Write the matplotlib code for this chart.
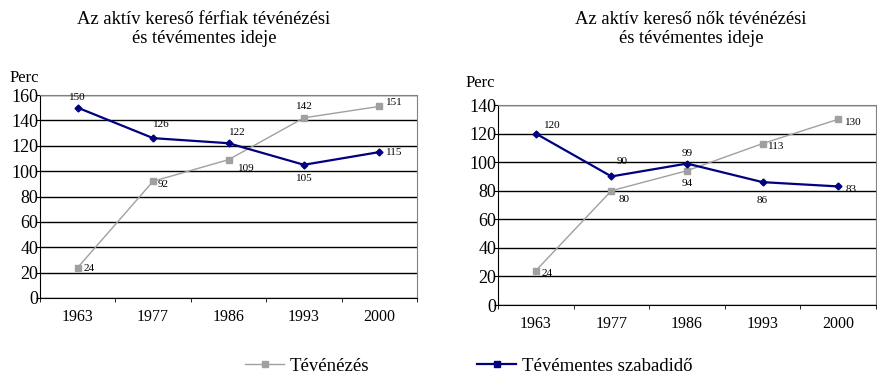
import matplotlib
matplotlib.use("Agg")
import matplotlib.pyplot as plt
from matplotlib.lines import Line2D

plt.rcParams["font.family"] = ["Liberation Serif", "DejaVu Serif"]

years = ["1963", "1977", "1986", "1993", "2000"]

# Men
men_tv = [24, 92, 109, 142, 151]
men_free = [150, 126, 122, 105, 115]
# Women
women_tv = [24, 80, 94, 113, 130]
women_free = [120, 90, 99, 86, 83]

TV_COLOR = "#a0a0a0"
FREE_COLOR = "#000080"

# label offsets in points (dx, dy, ha)
men_tv_off = [(4, -1, "left"), (3, -2, "left"), (7, -6, "left"), (0, 8, "center"), (5, 3, "left")]
men_free_off = [(0, 7, "center"), (6, 10, "center"), (6, 8, "center"), (0, -10, "center"), (5, 0, "left")]
women_tv_off = [(4, -2, "left"), (5, -6, "left"), (0, -9, "center"), (4, -2, "left"), (5, -2, "left")]
women_free_off = [(6, 6, "left"), (4, 11, "left"), (0, 7, "center"), (0, -13, "center"), (5, -2, "left")]


def draw_panel(ax, tv, free, ymax, tv_off, free_off):
    x = list(range(len(years)))
    ax.plot(x, tv, color=TV_COLOR, lw=1.0, marker="s", ms=5, zorder=3)
    ax.plot(x, free, color=FREE_COLOR, lw=1.6, marker="D", ms=3.5, zorder=4)
    for series, offs in [(tv, tv_off), (free, free_off)]:
        for xi, v, (dx, dy, ha) in zip(x, series, offs):
            ax.annotate(str(v), (xi, v), xytext=(dx, dy), textcoords="offset points",
                        ha=ha, va="center", fontsize=8)
    ax.set_xlim(-0.5, len(years) - 0.5)
    ax.set_ylim(0, ymax)
    ax.set_yticks(range(0, ymax + 1, 20))
    ax.yaxis.grid(True, color="black", lw=1.0)
    ax.set_axisbelow(True)
    ax.set_xticks(x)
    ax.set_xticklabels(years)
    ax.set_xticks([i + 0.5 for i in range(-1, len(years))], minor=True)
    ax.tick_params(axis="x", which="major", length=0, labelsize=11.5, pad=8)
    ax.tick_params(axis="x", which="minor", length=3, direction="out")
    ax.tick_params(axis="y", length=3, labelsize=13, pad=-2)
    for s in ["top", "right"]:
        ax.spines[s].set_color("#808080")
    ax.spines["left"].set_color("black")
    ax.spines["bottom"].set_color("black")


fig = plt.figure(figsize=(8.77, 3.76), dpi=100)
ax1 = fig.add_axes([40 / 877, 1 - 298 / 376, 377 / 877, 203 / 376])
ax2 = fig.add_axes([498 / 877, 1 - 305 / 376, 378 / 877, 200 / 376])

draw_panel(ax1, men_tv, men_free, 160, men_tv_off, men_free_off)
draw_panel(ax2, women_tv, women_free, 140, women_tv_off, women_free_off)

fig.text(204 / 877, 1 - 29 / 376, "Az aktív kereső férfiak tévénézési\nés tévémentes ideje",
         ha="center", va="center", fontsize=13.4, linespacing=1.15)
fig.text(691 / 877, 1 - 29 / 376, "Az aktív kereső nők tévénézési\nés tévémentes ideje",
         ha="center", va="center", fontsize=13.4, linespacing=1.15)
fig.text(10 / 877, 1 - 78 / 376, "Perc", ha="left", va="center", fontsize=12)
fig.text(466 / 877, 1 - 83 / 376, "Perc", ha="left", va="center", fontsize=12)

tv_handle = Line2D([], [], color=TV_COLOR, lw=1.0, marker="s", ms=4)
free_handle = Line2D([], [], color=FREE_COLOR, lw=1.6, marker="s", ms=4)
for handle, label, xpos in [(tv_handle, "Tévénézés", 245), (free_handle, "Tévémentes szabadidő", 477)]:
    fig.legend([handle], [label], loc="center left", bbox_to_anchor=(xpos / 877, 1 - 366 / 376),
               frameon=False, fontsize=13.5, handlelength=2.1, handletextpad=0.3,
               borderpad=0, borderaxespad=0)

fig.savefig("out.png", dpi=100)
